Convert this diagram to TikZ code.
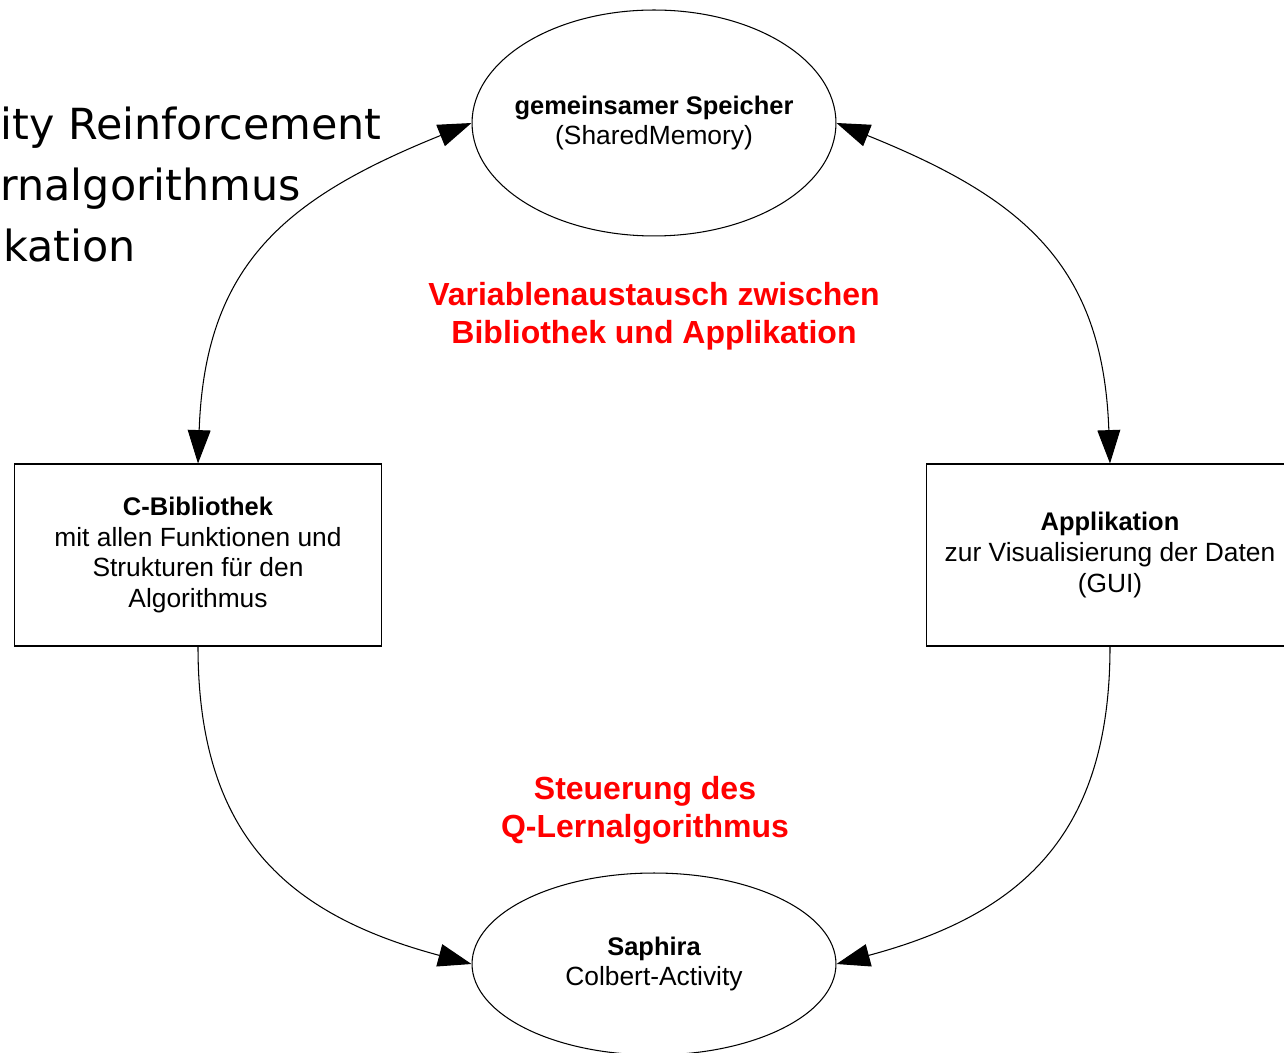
\documentclass[tikz,border=0pt]{standalone}
\usepackage{fontspec}
\setmainfont{Liberation Sans}
\newfontfamily\sidefont{DejaVu Sans}
\usetikzlibrary{arrows.meta,shapes.geometric}
\newcommand{\hd}[1]{{\fontsize{14.5}{17.4}\selectfont\bfseries #1}}
\tikzset{
	>={Triangle[length=19pt,width=13pt]},
	box/.style={draw,rectangle,align=center,inner sep=0pt,minimum width=7.34cm,minimum height=3.64cm,font=\fontsize{15}{17.6}\selectfont},
	oval/.style={draw,ellipse,align=center,inner sep=0pt,inner xsep=-0.3cm,minimum width=7.28cm,font=\fontsize{15}{17.6}\selectfont},
	note/.style={align=center,text=red,font=\bfseries\fontsize{18.2}{21.6}\selectfont},
	side/.style={anchor=base west,inner sep=0pt,font=\sidefont\fontsize{24.4}{34.7}\selectfont}
}

\begin{document}
\begin{tikzpicture}[x=0.02cm,y=0.02cm,line width=0.6pt]
			\useasboundingbox (0,0) rectangle (1284,-1053);
			\clip (0,0) rectangle (1284,-1053);
			
			\node[side] (side1) at (0,-140) {ity Reinforcement};
			\node[side] (side2) at (0,-201) {rnalgorithmus};
			\node[side] (side3) at (3,-262) {kation};
			
			\node[oval,minimum height=4.52cm] (mem) at (654,-123) {\hd{gemeinsamer Speicher}\\(SharedMemory)};
			\node[box] (lib) at (198,-555) {\hd{C-Bibliothek}\\ mit allen Funktionen und\\Strukturen für den\\Algorithmus};
			\node[box] (app) at (1110,-555) {\hd{Applikation}\\zur Visualisierung der Daten\\(GUI)};
			\node[oval,minimum height=3.64cm] (sap) at (654,-964) {\hd{Saphira}\\Colbert-Activity};
			
			\node[note] (swap) at (654,-316) {Variablenaustausch zwischen\\Bibliothek und Applikation};
			\node[note] (ctrl) at (645,-810) {Steuerung des\\Q-Lernalgorithmus};
			
			\draw[<->] (mem.west) to[out=202,in=88,distance=4cm] (lib.north);
			\draw[<->] (mem.east) to[out=-22,in=92,distance=4cm] (app.north);
			\draw[->] (lib.south) to[out=-90,in=165,distance=3.8cm] (sap.west);
			\draw[->] (app.south) to[out=-90,in=15,distance=3.8cm] (sap.east);
		\end{tikzpicture}
\end{document}
